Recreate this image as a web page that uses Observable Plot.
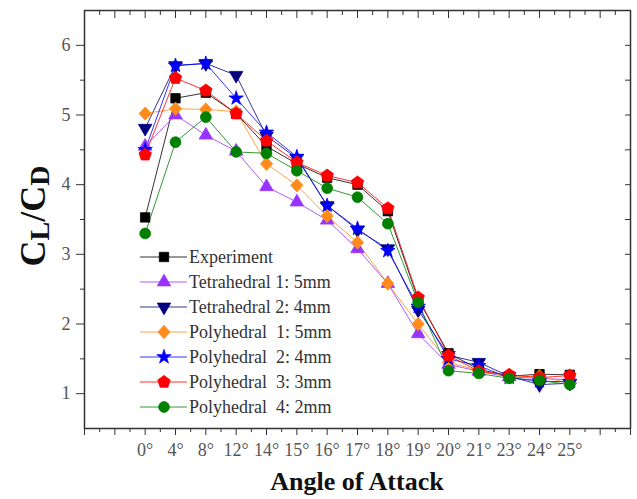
<!DOCTYPE html>
<html>
<head>
<meta charset="utf-8">
<script src="https://cdn.jsdelivr.net/npm/d3@7"></script>
<script src="https://cdn.jsdelivr.net/npm/@observablehq/plot@0.6"></script>
<style>
  html, body { margin: 0; padding: 0; background: #fff; }
  #chart svg { display: block; }
</style>
</head>
<body>
<div id="chart"></div>
<script>
// ---- data ----
const angles = ["0°","4°","8°","12°","14°","15°","16°","17°","18°","19°","20°","21°","23°","24°","25°"];
const seriesNames = ["Experiment", "Tetrahedral 1: 5mm", "Tetrahedral 2: 4mm", "Polyhedral  1: 5mm", "Polyhedral  2: 4mm", "Polyhedral  3: 3mm", "Polyhedral  4: 2mm"];
const experiment = [3.53, 5.24, 5.32, 5.02, 4.55, 4.30, 4.10, 4.00, 3.62, 2.35, 1.58, 1.35, 1.25, 1.28, 1.27];
const tetra1     = [4.55, 5.00, 4.71, 4.48, 3.97, 3.75, 3.49, 3.08, 2.58, 1.86, 1.42, 1.32, 1.24, 1.22, 1.20];
const tetra2     = [4.81, 5.71, 5.74, 5.57, 4.70, 4.38, 3.70, 3.35, 3.08, 2.20, 1.55, 1.45, 1.25, 1.13, 1.15];
const poly1      = [5.02, 5.09, 5.08, 5.05, 4.30, 3.99, 3.55, 3.17, 2.58, 2.00, 1.45, 1.33, 1.25, 1.25, 1.15];
const poly2      = [4.50, 5.71, 5.74, 5.24, 4.75, 4.40, 3.70, 3.37, 3.05, 2.25, 1.50, 1.40, 1.23, 1.18, 1.17];
const poly3      = [4.43, 5.53, 5.35, 5.02, 4.63, 4.32, 4.13, 4.03, 3.66, 2.38, 1.55, 1.32, 1.27, 1.23, 1.26];
const poly4      = [3.30, 4.61, 4.97, 4.47, 4.45, 4.20, 3.95, 3.82, 3.44, 2.31, 1.33, 1.29, 1.22, 1.19, 1.13];
const seriesValues = [experiment, tetra1, tetra2, poly1, poly2, poly3, poly4];
const colors = ["#000000", "#9933ff", "#000080", "#ff8c1a", "#0000ff", "#ff0000", "#008000"];

// ---- symbols ----
const sqrt3 = Math.sqrt(3);
const triangleDown = {
  draw(ctx, size) {
    const y = -Math.sqrt(size / (sqrt3 * 3));
    ctx.moveTo(0, -y * 2);
    ctx.lineTo(-sqrt3 * y, y);
    ctx.lineTo(sqrt3 * y, y);
    ctx.closePath();
  }
};
const pentagon = {
  draw(ctx, size) {
    const R = Math.sqrt(size / (2.5 * Math.sin(2 * Math.PI / 5)));
    for (let k = 0; k < 5; k++) {
      const a = -Math.PI / 2 + k * 2 * Math.PI / 5;
      const px = R * Math.cos(a), py = R * Math.sin(a);
      if (k) ctx.lineTo(px, py); else ctx.moveTo(px, py);
    }
    ctx.closePath();
  }
};
const diamondWide = {
  draw(ctx, size) {
    const h = Math.sqrt(size / 2);
    ctx.moveTo(0, -h);
    ctx.lineTo(h * 0.92, 0);
    ctx.lineTo(0, h);
    ctx.lineTo(-h * 0.92, 0);
    ctx.closePath();
  }
};
const symbols = [d3.symbolSquare, d3.symbolTriangle, triangleDown, diamondWide, d3.symbolStar, pentagon, d3.symbolCircle];
const radii = [5.3, 5.0, 5.0, 5.3, 4.5, 5.7, 5.4];

// ---- table ----
const rows = [];
seriesNames.forEach((name, s) => {
  seriesValues[s].forEach((v, i) => rows.push({series: name, s, i, v}));
});

const intTicks = d3.range(-2, 17);
const halfXTicks = d3.range(-1.5, 16, 1);
const yMajor = [1, 2, 3, 4, 5, 6];
const yMinor = [1.5, 2.5, 3.5, 4.5, 5.5];
const yAll = d3.range(1, 6.51, 0.5);

const marks = [];
seriesNames.forEach((name, s) => {
  const data = rows.filter(r => r.s === s);
  marks.push(Plot.line(data, {x: "i", y: "v", stroke: colors[s], strokeWidth: 1, strokeOpacity: 0.8}));
});
seriesNames.forEach((name, s) => {
  const data = rows.filter(r => r.s === s);
  marks.push(Plot.dot(data, {x: "i", y: "v", symbol: symbols[s], r: radii[s], fill: colors[s], stroke: colors[s], strokeWidth: 0.8}));
});

const chart = Plot.plot({
  width: 637,
  height: 499,
  marginLeft: 84,
  marginRight: 7,
  marginTop: 10,
  marginBottom: 71,
  style: {fontFamily: "Liberation Serif", fontSize: "18px", color: "#333", background: "#fff"},
  x: {domain: [-2, 16], axis: null},
  y: {domain: [0.5, 6.5], axis: null},
  marks: [
    Plot.axisX({ticks: intTicks, tickSize: 7, tickPadding: 8, tickFormat: i => angles[i] ?? "", label: null, fill: "#555"}),
    Plot.axisX({ticks: halfXTicks, tickSize: 4, tickFormat: () => "", label: null}),
    Plot.axisX({anchor: "top", ticks: intTicks, tickSize: 7, dy: 7, tickFormat: () => "", label: null}),
    Plot.axisX({anchor: "top", ticks: halfXTicks, tickSize: 4, dy: 4, tickFormat: () => "", label: null}),
    Plot.axisY({ticks: yMajor, tickSize: 8, tickPadding: 6, tickFormat: d => String(d), label: null, fill: "#555"}),
    Plot.axisY({ticks: yMinor, tickSize: 4, tickFormat: () => "", label: null}),
    Plot.axisY({anchor: "right", ticks: yAll, tickSize: 6, dx: -6, tickFormat: () => "", label: null}),
    ...marks,
    Plot.frame({stroke: "#333", strokeWidth: 1.5})
  ]
});

document.getElementById("chart").appendChild(chart);

// ---- annotations: axis titles and legend ----
const svg = d3.select(chart);

const yl = svg.append("text")
  .attr("transform", "translate(45,216) rotate(-90)")
  .attr("text-anchor", "middle")
  .attr("font-family", "Liberation Serif")
  .attr("font-weight", "bold")
  .attr("fill", "#111");
yl.append("tspan").attr("font-size", 36).text("C");
yl.append("tspan").attr("font-size", 28).attr("dy", 4).text("L");
yl.append("tspan").attr("font-size", 36).attr("dy", -4).text("/C");
yl.append("tspan").attr("font-size", 28).attr("dy", 4).text("D");

svg.append("text")
  .attr("x", 357).attr("y", 490)
  .attr("text-anchor", "middle")
  .attr("font-family", "Liberation Serif")
  .attr("font-weight", "bold")
  .attr("font-size", 26)
  .attr("fill", "#111")
  .text("Angle of Attack");

const lg = svg.append("g");
seriesNames.forEach((name, s) => {
  const yy = 257 + s * 25;
  const g = lg.append("g").attr("transform", `translate(0,${yy})`);
  g.append("line").attr("x1", 140).attr("x2", 187).attr("y1", 0).attr("y2", 0)
    .attr("stroke", colors[s]).attr("stroke-width", 1).attr("stroke-opacity", 0.8);
  g.append("path").attr("transform", "translate(164,0)")
    .attr("d", d3.symbol().type(symbols[s]).size(Math.PI * radii[s] * radii[s])())
    .attr("fill", colors[s]).attr("stroke", colors[s]).attr("stroke-width", 0.8);
  g.append("text").attr("x", 189).attr("y", 0).attr("dy", "0.35em")
    .attr("text-anchor", "start")
    .attr("font-family", "Liberation Serif").attr("font-size", 18)
    .attr("fill", "#333").style("white-space", "pre")
    .text(name);
});
</script>
</body>
</html>
